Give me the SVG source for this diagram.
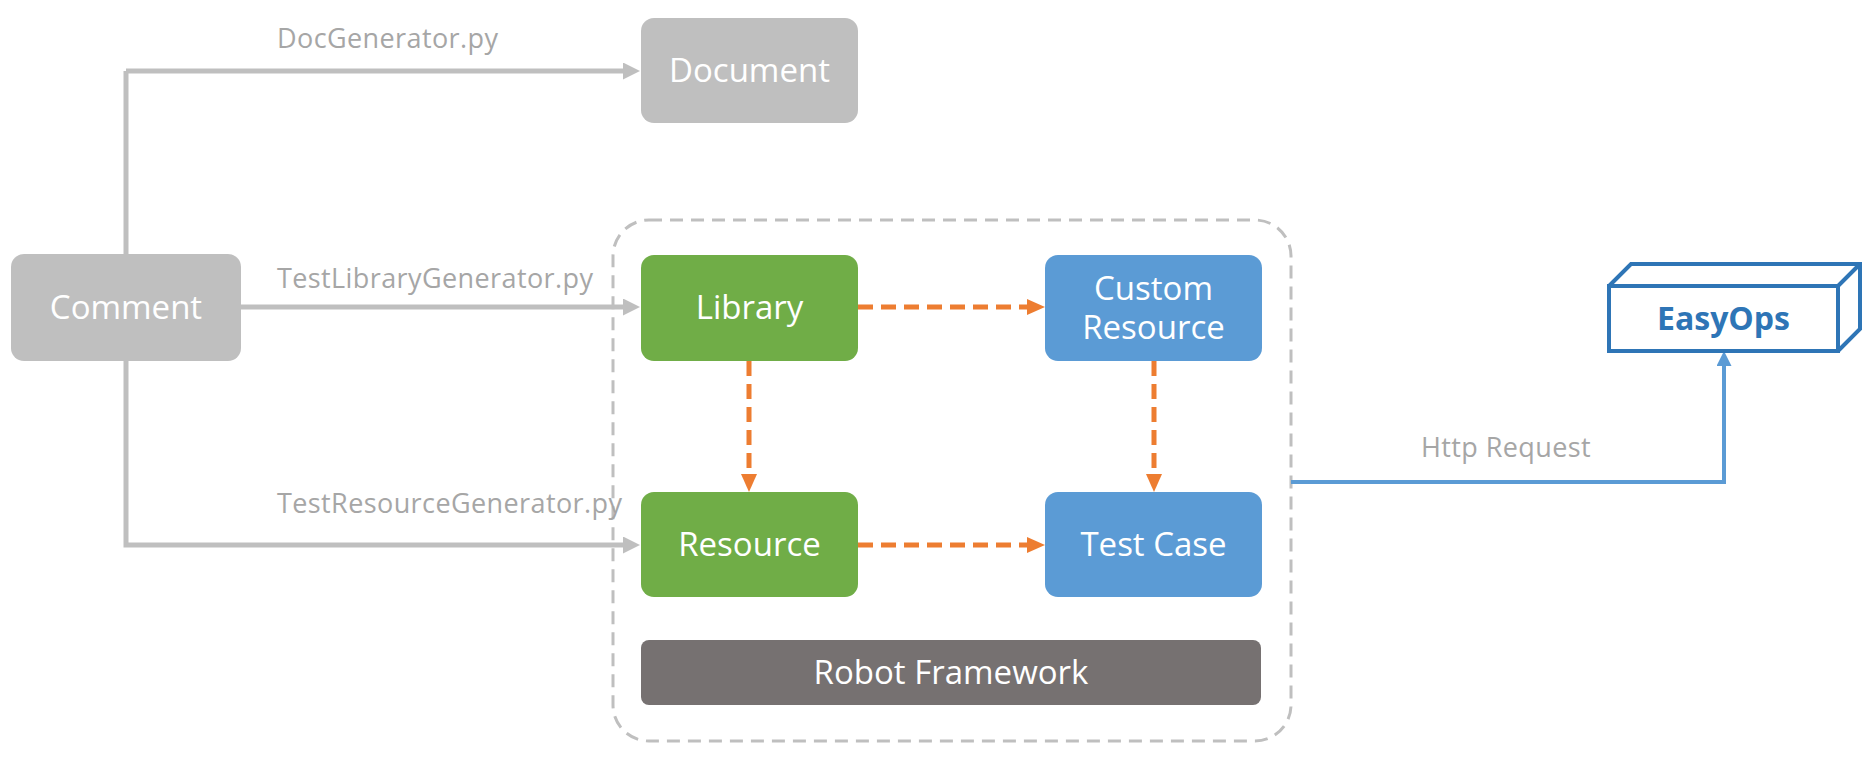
<svg xmlns="http://www.w3.org/2000/svg" width="1873" height="759" viewBox="0 0 1873 759">
<style>
.lbl{font-family:"Open Sans","Liberation Sans",sans-serif;font-size:27px;letter-spacing:0.4px;fill:#A6A6A6}
.nt{font-family:"Open Sans","Liberation Sans",sans-serif;font-size:33px;fill:#FFFFFF;text-anchor:middle}
.gray{fill:#BFBFBF}
.green{fill:#70AD47}
.blue{fill:#5B9BD5}
.gc{fill:none;stroke:#BFBFBF;stroke-width:5}
.oc{fill:none;stroke:#ED7D31;stroke-width:5;stroke-dasharray:15 8}
.bc{fill:none;stroke:#5B9BD5;stroke-width:4}
</style>
<defs>
<marker id="ag" markerUnits="userSpaceOnUse" markerWidth="18" markerHeight="18" refX="0" refY="8.5" orient="auto"><path d="M0,0 L17,8.5 L0,17 z" fill="#BFBFBF"/></marker>
<marker id="ao" markerUnits="userSpaceOnUse" markerWidth="19" markerHeight="17" refX="0" refY="8" orient="auto"><path d="M0,0 L18,8 L0,16 z" fill="#ED7D31"/></marker>
<marker id="ab" markerUnits="userSpaceOnUse" markerWidth="16" markerHeight="16" refX="0" refY="7.5" orient="auto"><path d="M0,0 L15,7.5 L0,15 z" fill="#5B9BD5"/></marker>
</defs>
<rect x="0" y="0" width="1873" height="759" fill="#FFFFFF"/>
<g id="container">
<rect x="613" y="220" width="678" height="521" rx="36" fill="none" stroke="#BFBFBF" stroke-width="3" stroke-dasharray="13 8"/>
</g>
<g id="connectors">
<path class="gc" d="M126,71 V545 H623" marker-end="url(#ag)"/>
<path class="gc" d="M126,71 H623" marker-end="url(#ag)"/>
<path class="gc" d="M241,307 H623" marker-end="url(#ag)"/>
<path class="oc" d="M858,307 H1027" marker-end="url(#ao)"/>
<path class="oc" d="M749,361 V474" marker-end="url(#ao)"/>
<path class="oc" d="M1154,361 V474" marker-end="url(#ao)"/>
<path class="oc" d="M858,545 H1027" marker-end="url(#ao)"/>
<path class="bc" d="M1291,482 H1724 V366" marker-end="url(#ab)"/>
<text class="lbl" x="277" y="48">DocGenerator.py</text>
<text class="lbl" x="277" y="288">TestLibraryGenerator.py</text>
<text class="lbl" x="277" y="513">TestResourceGenerator.py</text>
<text class="lbl" x="1421" y="457">Http Request</text>
</g>
<g id="comment">
<rect class="gray" x="11" y="254" width="230" height="107" rx="13"/>
<text class="nt" x="126" y="319">Comment</text>
</g>
<g id="document">
<rect class="gray" x="641" y="18" width="217" height="105" rx="13"/>
<text class="nt" x="749.5" y="82">Document</text>
</g>
<g id="library">
<rect class="green" x="641" y="255" width="217" height="106" rx="13"/>
<text class="nt" x="749.5" y="319">Library</text>
</g>
<g id="custom-resource">
<rect class="blue" x="1045" y="255" width="217" height="106" rx="13"/>
<text class="nt" x="1153.5" y="300"><tspan x="1153.5" y="300">Custom</tspan><tspan x="1153.5" y="339">Resource</tspan></text>
</g>
<g id="resource">
<rect class="green" x="641" y="492" width="217" height="105" rx="13"/>
<text class="nt" x="749.5" y="556">Resource</text>
</g>
<g id="test-case">
<rect class="blue" x="1045" y="492" width="217" height="105" rx="13"/>
<text class="nt" x="1153.5" y="556">Test Case</text>
</g>
<g id="robot-framework">
<rect x="641" y="640" width="620" height="65" rx="8" fill="#767171"/>
<text class="nt" x="951" y="684">Robot Framework</text>
</g>
<g id="easyops">
<path d="M1609,286 L1631,264 L1860,264 L1860,329 L1838,351 M1838,286 L1860,264" fill="none" stroke="#2E75B6" stroke-width="4" stroke-linejoin="miter"/>
<rect x="1609" y="286" width="229" height="65" fill="#FFFFFF" stroke="#2E75B6" stroke-width="4"/>
<text x="1723.5" y="330" text-anchor="middle" font-family="'Open Sans','Liberation Sans',sans-serif" font-size="32" font-weight="bold" fill="#2E75B6">EasyOps</text>
</g>
</svg>
